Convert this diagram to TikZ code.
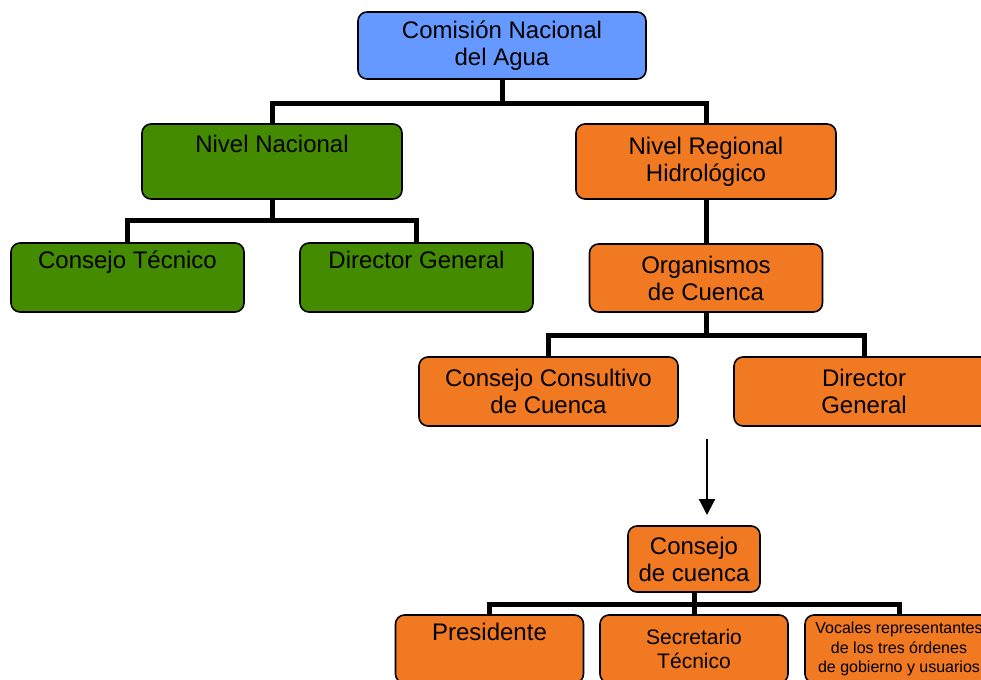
\documentclass[tikz,border=0pt]{standalone}
\usepackage{fontspec}
\setmainfont{Liberation Sans}
\usetikzlibrary{arrows.meta}
\definecolor{boxBlue}{RGB}{102,153,255}
\definecolor{boxGreen}{RGB}{69,139,0}
\definecolor{boxOrange}{RGB}{240,121,34}
\tikzstyle{boxBase}=[shape = rectangle, rounded corners = 9pt, draw, line width = 1.6pt, inner sep = 0pt, align = center, font = \fontsize{24}{27}\selectfont]
\tikzstyle{blueBox}=[boxBase, fill = boxBlue]
\tikzstyle{greenBox}=[boxBase, fill = boxGreen]
\tikzstyle{orangeBox}=[boxBase, fill = boxOrange]

\begin{document}
\begin{tikzpicture}[x = 1pt, y = -1pt]
\tikzstyle{branchEdge}=[line width = 5pt]
\tikzstyle{arrowEdge}=[line width = 2.2pt, -{Triangle[width = 16pt, length = 16pt]}]
\tikzstyle{wideBox}=[minimum width = 260pt, minimum height = 75pt]
\tikzstyle{midBox}=[minimum width = 233pt, minimum height = 69pt]
\tikzstyle{lowBox}=[orangeBox, minimum width = 188pt, minimum height = 68pt]
\useasboundingbox (0,0) rectangle (981,679);
% top
\node[blueBox, minimum width = 288pt, minimum height = 67pt] (v0) at (502,45.5) {Comisión Nacional\\del Agua};
\node[greenBox, wideBox] (v1) at (272,161.5) {Nivel Nacional\\\strut};
\node[orangeBox, wideBox] (v2) at (706,161.5) {Nivel Regional\\Hidrológico};
% second row
\node[greenBox, midBox] (v3) at (127.5,277.5) {Consejo Técnico\\\strut};
\node[greenBox, midBox] (v4) at (416.5,277.5) {Director General\\\strut};
\node[orangeBox, midBox, minimum height = 68pt] (v5) at (706,278) {Organismos\\de Cuenca};
\node[orangeBox, minimum width = 259pt, minimum height = 69pt] (v6) at (548.5,391.5) {Consejo Consultivo\\de Cuenca};
\node[orangeBox, minimum width = 260pt, minimum height = 69pt] (v7) at (864,391.5) {Director\\General};
% consejo de cuenca
\node[orangeBox, minimum width = 132pt, minimum height = 66pt] (v8) at (694,559) {Consejo\\de cuenca};
\node[lowBox] (v9) at (489.5,649) {Presidente\\\strut};
\node[lowBox, font = \fontsize{21}{24}\selectfont] (v10) at (694,649) {Secretario\\Técnico};
\node[lowBox, font = \fontsize{16}{19.5}\selectfont] (v11) at (899,649) {Vocales representantes\\de los tres órdenes\\de gobierno y usuarios};
\coordinate (a0) at (707,439);
\coordinate (a1) at (707,515);
% edges
\draw[branchEdge] (v0.south) -- ++(0,24) -| (v1.north);
\draw[branchEdge] (v0.south) -- ++(0,24) -| (v2.north);
\draw[branchEdge] (v1.south) -- ++(0,21) -| (v3.north);
\draw[branchEdge] (v1.south) -- ++(0,21) -| (v4.north);
\draw[branchEdge] (v2.south) -- (v5.north);
\draw[branchEdge] (v5.south) -- ++(0,23) -| (v6.north);
\draw[branchEdge] (v5.south) -- ++(0,23) -| (v7.north);
\draw[branchEdge] (v8.south) -- ++(0,12) -| (v9.north);
\draw[branchEdge] (v8.south) -- (v10.north);
\draw[branchEdge] (v8.south) -- ++(0,12) -| (v11.north);
\draw[arrowEdge] (a0) -- (a1);
\end{tikzpicture}
\end{document}
